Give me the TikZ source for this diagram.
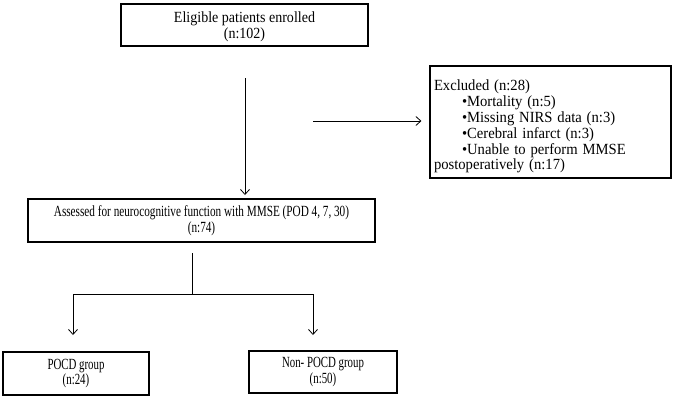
\documentclass[tikz,border=0pt]{standalone}
\usepackage{graphicx}
\usepackage{fontspec}
\setmainfont{Liberation Serif}
\usetikzlibrary{arrows.meta}
\newcommand{\hsq}[2]{\scalebox{#1}[1]{#2}}
\begin{document}
\begin{tikzpicture}[x=1pt,y=-1pt,
  box/.style={draw, line width=1.1pt, inner sep=0pt, align=center, font=\fontsize{15.5}{15.8}\selectfont},
  conn/.style={line width=0.8pt},
  arr/.style={conn, -{Straight Barb[length=5pt,width=9pt]}}]
\useasboundingbox (0,0) rectangle (680,397);
\node[box, minimum width=247pt, minimum height=42pt] (elig) at (244.5,25) {\rule{0pt}{14pt}\hsq{0.905}{Eligible patients enrolled}\\\hsq{0.905}{(n:102)}};
\node[box, minimum width=241pt, minimum height=112pt, align=left, text width=233pt] (excl) at (550.5,122)
 {\rule{0pt}{20pt}\hsq{0.945}{Excluded (n:28)}\\
  \hspace*{28pt}\hsq{0.945}{•Mortality (n:5)}\\
  \hspace*{28pt}\hsq{0.945}{•Missing NIRS data (n:3)}\\
  \hspace*{28pt}\hsq{0.945}{•Cerebral infarct (n:3)}\\
  \hspace*{28pt}\hsq{0.945}{•Unable to perform MMSE}\\
  \hsq{0.945}{postoperatively (n:17)}};
\node[box, minimum width=347pt, minimum height=43pt] (assess) at (201.5,220.5) {\hsq{0.724}{Assessed for neurocognitive function with MMSE (POD 4, 7, 30)}\\\hsq{0.724}{(n:74)}};
\node[box, minimum width=146pt, minimum height=43pt] (pocd) at (76,373.5) {\hsq{0.70}{POCD group}\\\hsq{0.70}{(n:24)}};
\node[box, minimum width=148pt, minimum height=42pt] (npocd) at (323,372) {\hsq{0.70}{Non- POCD group}\\\hsq{0.70}{(n:50)}};
% connectors
\coordinate (exstart) at (313,121);
\coordinate (vtop) at (245,78);
\coordinate (vbot) at (245,195);
\draw[arr] (vtop) -- (vbot);
\draw[arr] (exstart) -- ([xshift=-8pt]excl.west |- exstart);
\coordinate (stemtop) at (192,253);
\coordinate (split) at (192,294);
\coordinate (lsplit) at (73,294);
\coordinate (rsplit) at (313,294);
\coordinate (lend) at (73,335);
\coordinate (rend) at (313,335);
\draw[conn] (stemtop) -- (split);
\draw[conn] (lsplit) -- (rsplit);
\draw[arr] (lsplit) -- (lend);
\draw[arr] (rsplit) -- (rend);
\end{tikzpicture}
\end{document}
